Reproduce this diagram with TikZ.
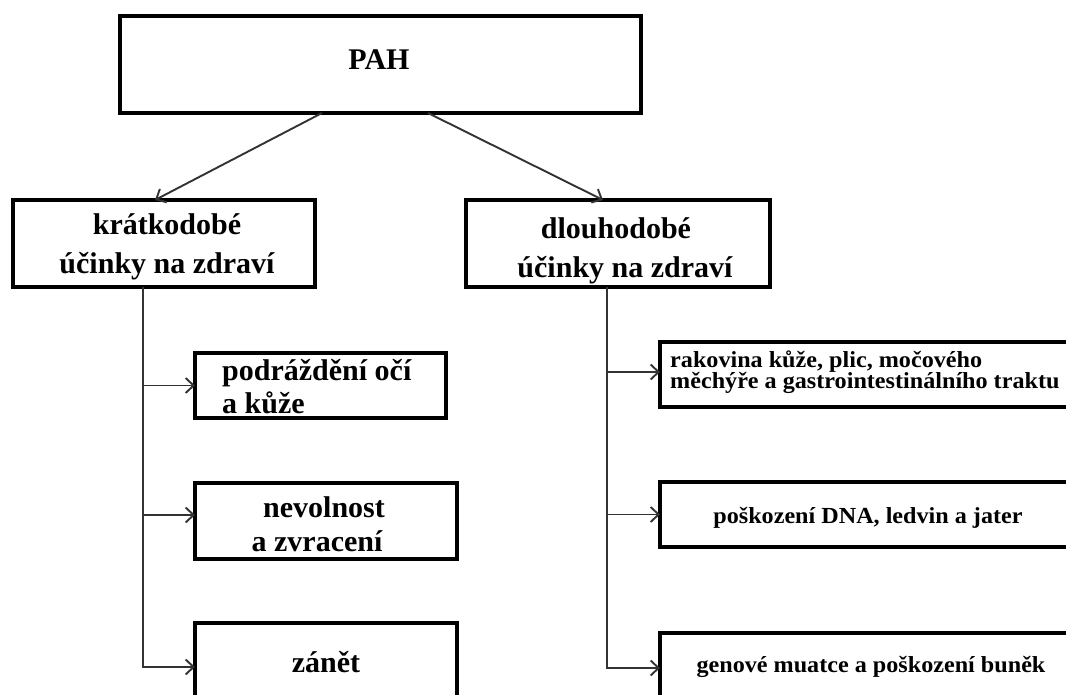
\documentclass[tikz,border=0pt]{standalone}
\usepackage{fontspec}
\setmainfont{Liberation Serif}
\newfontfamily\rfont[FakeStretch=1.05]{Liberation Serif}
\usetikzlibrary{arrows.meta}
\begin{document}
\begin{tikzpicture}[x=1pt,y=-1pt,
  box/.style={draw=black, line width=3.8pt, rectangle, anchor=north west, inner sep=0pt, outer sep=0pt},
  conn/.style={draw=black!80, line width=1.9pt},
  arr/.style={conn, -{Straight Barb[length=8pt,width=15pt]}},
  big/.style={font=\fontsize{30}{35}\selectfont\bfseries, inner sep=0pt, anchor=base},
  small/.style={font=\rfont\fontsize{23}{21}\selectfont\bfseries, inner sep=0pt, anchor=base}]
\fill[white] (0,0) rectangle (1066,695);
\useasboundingbox (0,0) rectangle (1066,695);
\clip (0,0) rectangle (1066,695);
% boxes
\node[box, minimum width=521pt, minimum height=97pt] (pah) at (120,16) {};
\node[box, minimum width=302pt, minimum height=87pt] (k) at (13,200) {};
\node[box, minimum width=304pt, minimum height=87pt] (d) at (466,200) {};
\node[box, minimum width=251pt, minimum height=65pt] (a1) at (195,353) {};
\node[box, minimum width=262pt, minimum height=76pt] (a2) at (195,483) {};
\node[box, minimum width=262pt, minimum height=110pt] (a3) at (195,623) {};
\node[box, minimum width=450pt, minimum height=65pt] (b1) at (660,342) {};
\node[box, minimum width=450pt, minimum height=65pt] (b2) at (660,482) {};
\node[box, minimum width=450pt, minimum height=110pt] (b3) at (660,633) {};
% texts
\node[big] (pahT) at (379,70) {PAH};
\node[big] (k1) at (167,235) {krátkodobé};
\node[big] (k2) at (167,273) {účinky na zdraví};
\node[big] (d1) at (616,239) {dlouhodobé};
\node[big] (d2) at (625,277) {účinky na zdraví};
\node[big, anchor=base west] (a1a) at (222,380) {podráždění očí};
\node[big, anchor=base west] (a1b) at (222,413) {a kůže};
\node[big] (a2a) at (324,517) {nevolnost};
\node[big] (a2b) at (317,551) {a zvracení};
\node[big] (a3a) at (326,672) {zánět};
\node[small, anchor=base west] (b1a) at (670,367) {rakovina kůže, plic, močového};
\node[small, anchor=base west] (b1b) at (670,388) {měchýře a gastrointestinálního traktu};
\node[small] (b2a) at (868,523) {poškození DNA, ledvin a jater};
\node[small] (b3a) at (871,672) {genové muatce a poškození buněk};
% connectors
\draw[arr] ([xshift=202pt]pah.south west) -- ([xshift=142pt]k.north west);
\draw[arr] ([xshift=308pt]pah.south west) -- ([xshift=137pt]d.north west);
\coordinate (kt) at ([xshift=130pt]k.south west);
\coordinate (dt) at ([xshift=141pt]d.south west);
\coordinate (a2in) at ([yshift=6pt]a2.west);
\coordinate (b1in) at ([yshift=2.5pt]b1.west);
\draw[arr] (kt) |- ([yshift=-44pt]a3.north west);
\draw[arr] (kt |- a1.west) -- (a1.west);
\draw[arr] (kt |- a2in) -- (a2in);
\draw[arr] (dt) |- ([yshift=-35pt]b3.north west);
\draw[arr] (dt |- b1in) -- (b1in);
\draw[arr] (dt |- b2.west) -- (b2.west);
\end{tikzpicture}
\end{document}
